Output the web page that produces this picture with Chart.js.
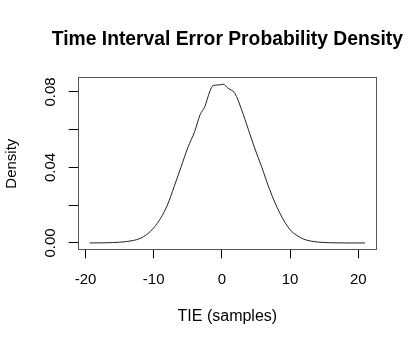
<!DOCTYPE html>
<html>
<head>
<meta charset="utf-8">
<script src="https://cdn.jsdelivr.net/npm/chart.js@4"></script>
<style>
  body { margin: 0; background: #fff; }
</style>
</head>
<body>
<canvas id="tieChart" width="417" height="348"></canvas>
<script>
// Estimated density of the time interval error
const tieValues = [-19.4, -17, -15, -13, -12, -11, -10, -9, -8, -7, -6, -5, -4, -3.2, -2.5, -1.8, -1.3, -0.5,
    0.2, 0.9, 1.9, 2.9, 3.9, 4.8, 5.8, 7, 8.5, 10, 11, 12, 14, 16, 18, 21];
const densityValues = [0.0000, 0.0001, 0.0004, 0.0013, 0.0024, 0.0045, 0.0080, 0.0130, 0.0200, 0.0299, 0.0401,
    0.0505, 0.0590, 0.0679, 0.0723, 0.0800, 0.0834, 0.0837, 0.0841, 0.0820, 0.0793, 0.0705, 0.0599, 0.0503,
    0.0406, 0.0283, 0.0158, 0.0070, 0.0040, 0.0020, 0.0005, 0.0001, 0.0000, 0.0000];

const xTicks = [-20, -10, 0, 10, 20];
const yTicks = [0, 0.02, 0.04, 0.06, 0.08];
const yLabels = ['0.00', '', '0.04', '', '0.08'];
const mainTitle = 'Time Interval Error Probability Density';

const points = tieValues.map((x, i) => ({ x: x, y: densityValues[i] }));

const fontFamily = 'Liberation Sans, Arial, Helvetica, sans-serif';

// box around the plot region, title centred over it, rotated y tick labels
const plotFrame = {
    id: 'plotFrame',
    afterDraw(chart) {
        const ctx = chart.ctx;
        const area = chart.chartArea;
        ctx.save();
        ctx.strokeStyle = '#555';
        ctx.lineWidth = 1;
        ctx.strokeRect(Math.round(area.left) - 0.5, Math.round(area.top) - 0.5,
            Math.round(area.right - area.left) + 1, Math.round(area.bottom - area.top) + 1);

        ctx.fillStyle = '#000';
        ctx.textAlign = 'center';
        ctx.textBaseline = 'middle';
        ctx.font = 'bold 19.3px ' + fontFamily;
        ctx.fillText(mainTitle, (area.left + area.right) / 2, 40);

        const yScale = chart.scales.y;
        ctx.font = '15px ' + fontFamily;
        yTicks.forEach((v, i) => {
            if (!yLabels[i]) return;
            const py = yScale.getPixelForValue(v);
            ctx.save();
            ctx.translate(51, py);
            ctx.rotate(-Math.PI / 2);
            ctx.fillText(yLabels[i], 0, 0);
            ctx.restore();
        });
        ctx.restore();
    }
};

new Chart(document.getElementById('tieChart').getContext('2d'), {
    type: 'line',
    data: {
        datasets: [{
            label: 'Density',
            data: points,
            borderColor: '#222',
            borderWidth: 1,
            pointRadius: 0,
            fill: false,
            cubicInterpolationMode: 'monotone'
        }]
    },
    options: {
        responsive: false,
        animation: false,
        devicePixelRatio: 1,
        layout: {
            padding: { left: 0, right: 41, top: 78, bottom: 0 }
        },
        plugins: {
            legend: { display: false },
            tooltip: { enabled: false },
            title: { display: false }
        },
        scales: {
            x: {
                type: 'linear',
                min: -21.0,
                max: 22.6,
                afterBuildTicks: s => { s.ticks = xTicks.map(v => ({ value: v })); },
                afterFit: s => { s.height = 98.7; },
                grid: { drawOnChartArea: false, drawTicks: true, tickLength: 9, color: '#000' },
                border: { display: true, color: '#000' },
                ticks: {
                    color: '#000',
                    font: { family: fontFamily, size: 15 },
                    padding: 13,
                    maxRotation: 0
                },
                title: {
                    display: true,
                    text: 'TIE (samples)',
                    color: '#000',
                    font: { family: fontFamily, size: 16 },
                    padding: { top: 0, bottom: 21.5 }
                }
            },
            y: {
                type: 'linear',
                min: -0.00336,
                max: 0.0874,
                afterBuildTicks: s => { s.ticks = yTicks.map(v => ({ value: v })); },
                afterFit: s => { s.width = 78.7; },
                grid: { drawOnChartArea: false, drawTicks: true, tickLength: 10, color: '#000' },
                border: { display: true, color: '#000' },
                ticks: { display: false },
                title: {
                    display: true,
                    text: 'Density',
                    color: '#000',
                    font: { family: fontFamily, size: 15 },
                    padding: { top: 2.7, bottom: 0 }
                }
            }
        }
    },
    plugins: [plotFrame]
});
</script>
</body>
</html>
